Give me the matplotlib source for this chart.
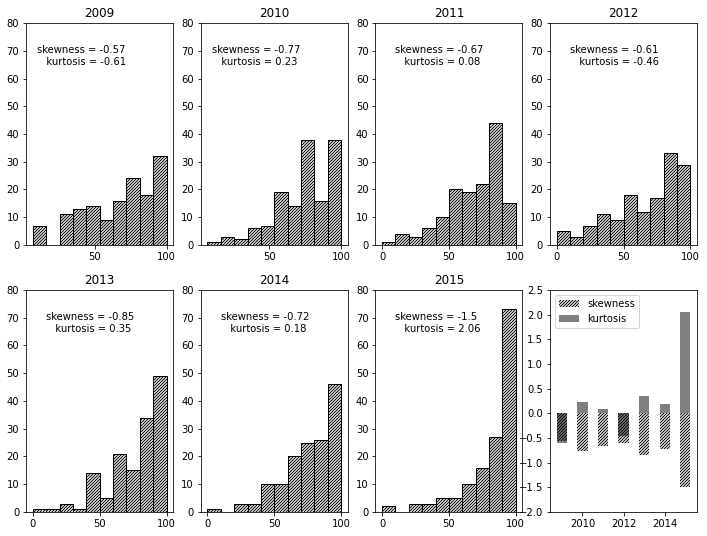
import numpy as np
import matplotlib
matplotlib.use("Agg")
import matplotlib.pyplot as plt

years = [2009, 2010, 2011, 2012, 2013, 2014, 2015]

# histogram counts per year (10 bins each)
counts = [
    [7, 0, 11, 13, 14, 9, 16, 24, 18, 32],
    [1, 3, 2, 6, 7, 19, 14, 38, 16, 38],
    [1, 4, 3, 6, 10, 20, 19, 22, 44, 15],
    [5, 3, 7, 11, 9, 18, 12, 17, 33, 29],
    [1, 1, 3, 1, 14, 5, 21, 15, 34, 49],
    [1, 0, 3, 3, 10, 10, 20, 25, 26, 46],
    [2, 0, 3, 3, 5, 5, 10, 16, 27, 73],
]
# lowest / highest score per year (bin range)
lows = [7, 7, 0, 0, 0, 0, 0]
highs = [100, 100, 100, 100, 100, 100, 100]

skewness = [-0.57, -0.77, -0.67, -0.61, -0.85, -0.72, -1.5]
kurtosis = [-0.61, 0.23, 0.08, -0.46, 0.35, 0.18, 2.06]

fig, axes = plt.subplots(2, 4, figsize=(707 / 72, 536 / 72), dpi=72)
fig.subplots_adjust(left=0.037, right=0.986, top=0.957, bottom=0.045,
                    wspace=0.187, hspace=0.203)
axes = axes.ravel()

for i, year in enumerate(years):
    ax = axes[i]
    edges = np.linspace(lows[i], highs[i], 11)
    ax.hist(edges[:-1], bins=edges, weights=counts[i], facecolor="white",
            edgecolor="black", hatch="////////", linewidth=1)
    ax.set_ylim(0, 80)
    ax.set_title(str(year))
    ax.text(10, 65, "skewness = {}\n   kurtosis = {}".format(skewness[i], kurtosis[i]))

ax = axes[7]
ax.bar(years, skewness, width=0.5, fill=False, hatch="////////", edgecolor="black",
       linewidth=0, label="skewness", zorder=3)
ax.bar(years, kurtosis, width=0.5, color="gray", label="kurtosis", zorder=2)
ax.set_ylim(-2.0, 2.5)
ax.legend(loc="upper left")

plt.savefig("out.png", dpi=72)
